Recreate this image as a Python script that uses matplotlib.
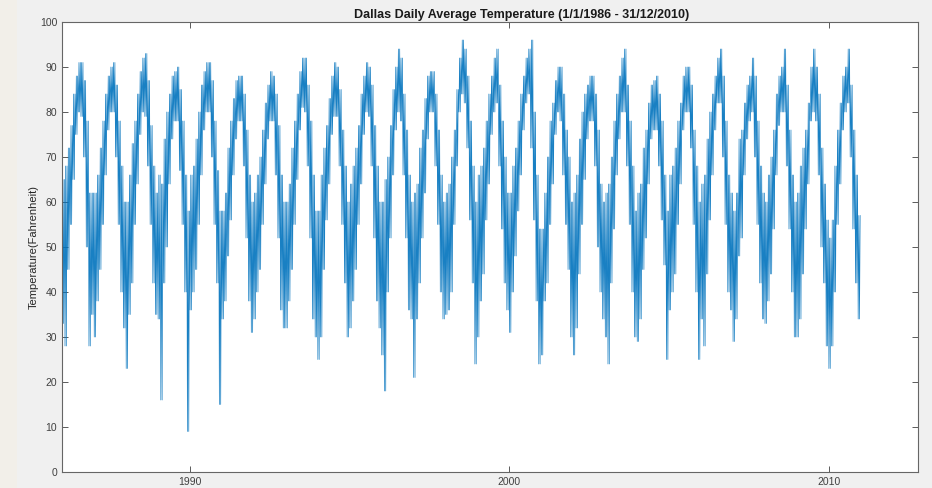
import numpy as np
import matplotlib.pyplot as plt
from matplotlib.patches import Rectangle

plt.rcParams['font.family'] = ['Liberation Sans', 'DejaVu Sans']

years = list(range(1986, 2011))

# monthly lowest / highest daily average temperature (F), one row per year, Jan..Dec
monthly_low = [
    [33, 28, 45, 55, 65, 75, 80, 79, 70, 50, 28, 35],  # 1986
    [30, 38, 45, 55, 66, 76, 80, 80, 70, 55, 40, 32],  # 1987
    [23, 35, 42, 55, 64, 75, 80, 79, 68, 55, 42, 35],  # 1988
    [34, 16, 42, 50, 64, 74, 78, 78, 67, 55, 40, 9],   # 1989
    [36, 40, 45, 55, 66, 76, 80, 80, 70, 55, 42, 15],  # 1990
    [34, 38, 48, 56, 66, 74, 78, 78, 68, 52, 38, 31],  # 1991
    [34, 40, 45, 55, 64, 74, 78, 78, 66, 52, 36, 32],  # 1992
    [32, 38, 45, 55, 65, 76, 81, 80, 68, 52, 34, 30],  # 1993
    [25, 30, 45, 56, 64, 75, 79, 79, 68, 55, 42, 30],  # 1994
    [32, 38, 45, 55, 64, 75, 80, 79, 68, 52, 38, 32],  # 1995
    [26, 18, 40, 52, 66, 76, 80, 78, 66, 52, 36, 34],  # 1996
    [21, 34, 42, 52, 62, 74, 80, 80, 68, 55, 40, 34],  # 1997
    [35, 36, 40, 55, 68, 80, 84, 82, 72, 56, 42, 24],  # 1998
    [30, 38, 44, 56, 64, 75, 80, 82, 68, 54, 42, 36],  # 1999
    [31, 40, 48, 58, 66, 76, 82, 84, 72, 56, 38, 24],  # 2000
    [26, 38, 42, 55, 64, 75, 80, 78, 66, 55, 45, 30],  # 2001
    [26, 32, 44, 55, 65, 74, 78, 78, 68, 50, 40, 34],  # 2002
    [30, 24, 42, 54, 66, 74, 80, 80, 68, 55, 40, 30],  # 2003
    [29, 34, 45, 52, 64, 74, 76, 76, 68, 56, 46, 25],  # 2004
    [36, 40, 44, 55, 64, 76, 80, 80, 72, 55, 40, 25],  # 2005
    [34, 28, 44, 56, 66, 76, 82, 82, 70, 55, 40, 36],  # 2006
    [29, 34, 48, 52, 66, 74, 78, 80, 70, 55, 42, 34],  # 2007
    [33, 38, 44, 54, 66, 77, 80, 80, 68, 54, 40, 30],  # 2008
    [30, 34, 44, 54, 64, 78, 80, 78, 66, 50, 42, 28],  # 2009
    [23, 28, 40, 55, 64, 76, 80, 82, 70, 54, 42, 34],  # 2010
]

monthly_high = [
    [65, 68, 72, 77, 84, 88, 91, 91, 87, 78, 62, 62],  # 1986
    [62, 66, 72, 78, 84, 88, 90, 91, 86, 78, 68, 60],  # 1987
    [60, 66, 73, 78, 84, 89, 92, 93, 87, 77, 68, 62],  # 1988
    [66, 64, 74, 80, 84, 88, 89, 90, 85, 78, 66, 58],  # 1989
    [66, 68, 74, 80, 86, 89, 91, 91, 87, 78, 67, 58],  # 1990
    [58, 62, 72, 78, 83, 87, 88, 88, 84, 76, 66, 60],  # 1991
    [62, 66, 70, 76, 82, 86, 89, 88, 84, 77, 66, 60],  # 1992
    [60, 64, 72, 78, 84, 89, 92, 92, 86, 78, 66, 58],  # 1993
    [58, 66, 72, 77, 83, 88, 91, 90, 85, 76, 68, 60],  # 1994
    [64, 68, 72, 77, 84, 88, 91, 90, 86, 77, 68, 60],  # 1995
    [60, 65, 70, 77, 85, 90, 94, 92, 84, 76, 66, 60],  # 1996
    [62, 64, 72, 76, 83, 88, 89, 89, 84, 76, 66, 60],  # 1997
    [62, 64, 70, 76, 85, 92, 96, 94, 88, 78, 68, 60],  # 1998
    [66, 68, 72, 78, 84, 88, 92, 94, 86, 78, 70, 62],  # 1999
    [62, 68, 72, 78, 84, 88, 92, 94, 96, 80, 66, 54],  # 2000
    [54, 62, 70, 78, 82, 87, 90, 90, 84, 76, 70, 60],  # 2001
    [62, 66, 74, 80, 84, 86, 88, 88, 84, 76, 64, 60],  # 2002
    [62, 64, 70, 78, 84, 88, 92, 94, 86, 78, 68, 58],  # 2003
    [62, 64, 72, 76, 82, 86, 87, 88, 84, 78, 66, 58],  # 2004
    [66, 68, 72, 78, 82, 88, 90, 90, 86, 76, 68, 60],  # 2005
    [64, 66, 74, 80, 84, 88, 92, 94, 88, 78, 66, 62],  # 2006
    [58, 62, 74, 76, 82, 86, 88, 92, 88, 78, 68, 62],  # 2007
    [60, 66, 70, 76, 84, 88, 90, 94, 86, 76, 66, 60],  # 2008
    [62, 68, 72, 76, 82, 90, 94, 90, 84, 72, 64, 56],  # 2009
    [52, 56, 68, 76, 82, 88, 90, 94, 86, 76, 66, 57],  # 2010
]

yticks = list(range(0, 101, 10))
xticks = [1990, 2000, 2010]

low = np.array(monthly_low, dtype=float).ravel()
high = np.array(monthly_high, dtype=float).ravel()
month_start = np.repeat(years, 12) + np.tile(np.arange(12), len(years)) / 12.0

# the line swings low -> high twice inside each month
swings = 2
offs = (np.arange(2 * swings) + 0.5) / (2 * swings * 12.0)
t = (month_start[:, None] + offs[None, :]).ravel()
temp = np.where(np.arange(2 * swings) % 2 == 0, low[:, None], high[:, None]).ravel()

fig = plt.figure(figsize=(9.32, 4.88), dpi=100, facecolor='#f0f0f0')
fig.patches.append(Rectangle((0, 0), 17 / 932, 1, transform=fig.transFigure,
                             facecolor='#f2efe9', edgecolor='none', zorder=0))

ax = fig.add_axes([62 / 932, 16 / 488, 856 / 932, 450 / 488])
ax.plot(t, temp, color='#0072BD', linewidth=0.5, alpha=0.9)

ax.set_xlim(1986, 2012.8)
ax.set_ylim(0, 100)
ax.set_xticks(xticks)
ax.set_yticks(yticks)
ax.tick_params(direction='in', length=4, top=True, right=True,
               labelsize=7.5, colors='#404040', width=0.6)
for s in ax.spines.values():
    s.set_color('#666666')
    s.set_linewidth(0.8)

ax.set_title('Dallas Daily Average Temperature (1/1/1986 - 31/12/2010)',
             x=0.537, fontsize=9, fontweight='bold', color='#1a1a1a', pad=3)
ax.set_ylabel('Temperature(Fahrenheit)', fontsize=8, color='#262626', labelpad=0.5)

fig.savefig('out.png', dpi=100, facecolor=fig.get_facecolor())
